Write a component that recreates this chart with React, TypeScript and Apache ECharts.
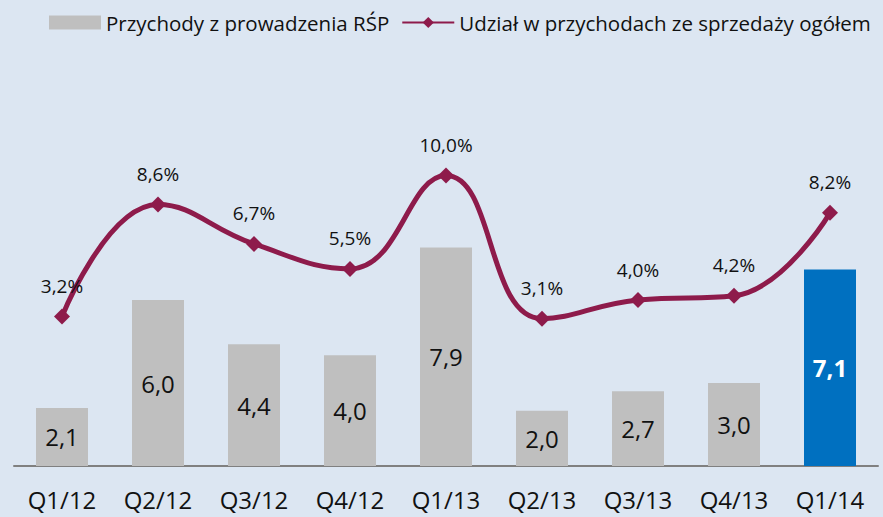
import React, { useEffect, useRef } from "react";
import * as echarts from "echarts";

const categories = ["Q1/12", "Q2/12", "Q3/12", "Q4/12", "Q1/13", "Q2/13", "Q3/13", "Q4/13", "Q1/14"];
const revenue = [2.1, 6.0, 4.4, 4.0, 7.9, 2.0, 2.7, 3.0, 7.1];
const share = [3.2, 8.6, 6.7, 5.5, 10.0, 3.1, 4.0, 4.2, 8.2];
const barName = "Przychody z prowadzenia RŚP";
const lineName = "Udział w przychodach ze sprzedaży ogółem";

const FONT = "Open Sans";
const fmt = (v: number, d = 1) => v.toFixed(d).replace(".", ",");

export default function App() {
  const ref = useRef<HTMLDivElement>(null);
  useEffect(() => {
    if (!ref.current) return;
    const chart = echarts.init(ref.current, undefined, { renderer: "svg" });
    const last = revenue.length - 1;
    chart.setOption({
      animation: false,
      backgroundColor: "#dce6f2",
      textStyle: { fontFamily: FONT },
      legend: {
        top: 7,
        left: 44,
        itemGap: 12,
        textStyle: { fontSize: 20.5, color: "#111111", fontFamily: FONT },
        data: [
          { name: barName, icon: "rect", itemStyle: { color: "#bfbfbf" } },
          { name: lineName },
        ],
        itemWidth: 52,
        itemHeight: 14,
      },
      grid: { left: 14, right: 5, top: 134, bottom: 51, containLabel: false },
      xAxis: {
        type: "category",
        data: categories,
        axisLine: { lineStyle: { color: "#808080", width: 2 } },
        axisTick: { show: false },
        axisLabel: { fontSize: 24, color: "#111111", margin: 21, fontFamily: FONT },
      },
      yAxis: [
        { type: "value", min: 0, max: 12, show: false, splitLine: { show: false } },
        { type: "value", min: -4, max: 12, show: false, splitLine: { show: false } },
      ],
      series: [
        {
          name: barName,
          type: "bar",
          barWidth: 52,
          yAxisIndex: 0,
          itemStyle: { color: "#bfbfbf" },
          data: revenue.map((v, i) =>
            i === last
              ? {
                  value: v,
                  itemStyle: { color: "#0070c0" },
                  label: { color: "#ffffff", fontWeight: "bold" },
                }
              : v
          ),
          label: {
            show: true,
            position: "inside",
            fontSize: 24,
            color: "#111111",
            fontFamily: FONT,
            formatter: (p: any) => fmt(p.value),
          },
        },
        {
          name: lineName,
          type: "line",
          yAxisIndex: 1,
          smooth: 0.45,
          data: share,
          symbol: "diamond",
          symbolSize: 16,
          lineStyle: { color: "#8e1b4b", width: 5 },
          itemStyle: { color: "#8e1b4b" },
          label: {
            show: true,
            position: "top",
            distance: 13,
            fontSize: 19,
            color: "#111111",
            fontFamily: FONT,
            formatter: (p: any) => fmt(p.value) + "%",
          },
        },
      ],
    });
    return () => chart.dispose();
  }, []);
  return (
    <div
      ref={ref}
      style={{ position: "absolute", left: 0, top: 0, width: 883, height: 517 }}
    />
  );
}
